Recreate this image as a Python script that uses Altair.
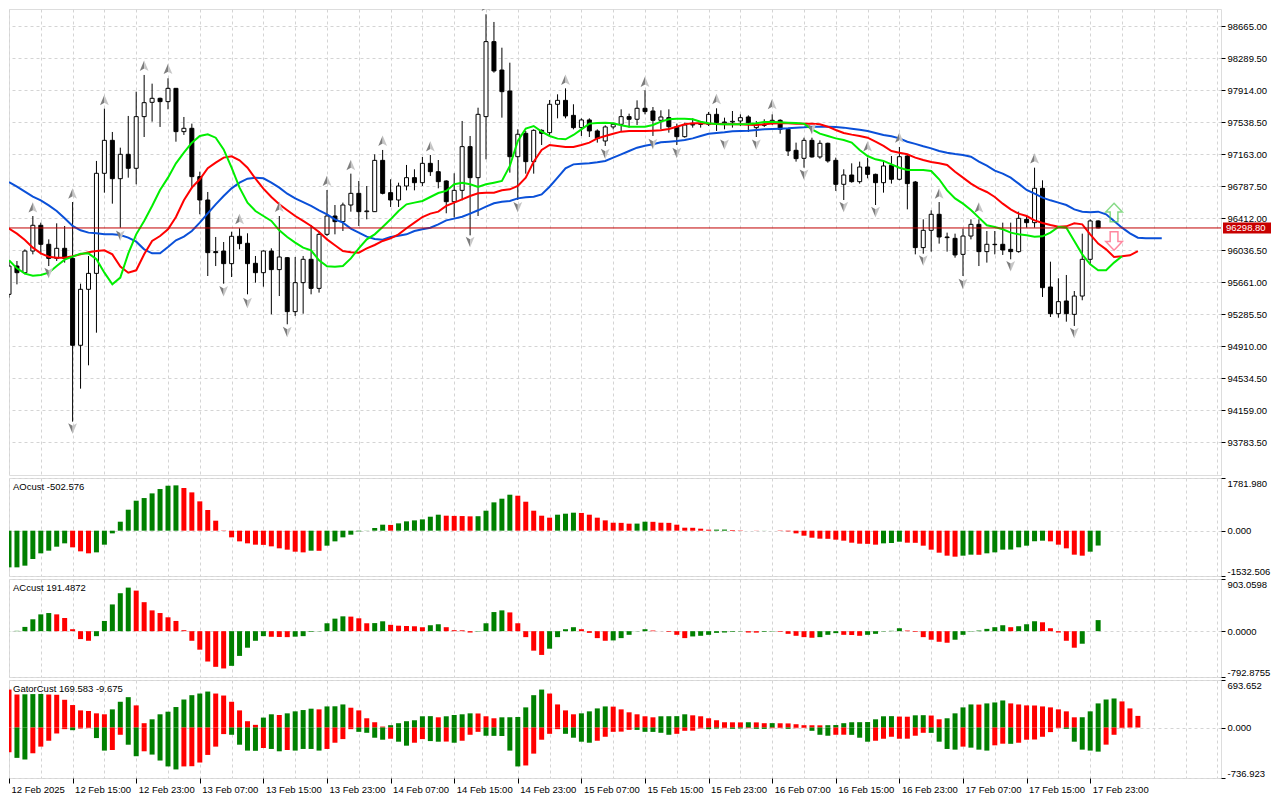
import json
import altair as alt
import pandas as pd

# ---------------- data ----------------
OPEN = [95520,95852,95774,96028,96330,96107,95942,96060,95942,94922,
        95579,95766,96940,97327,96877,97163,96999,97605,97773,97820,
        97781,97937,97429,97468,96901,96627,96021,96028,95880,96201,
        96119,95884,95774,96028,95810,95950,95317,95657,95931,95590,
        96224,96439,96373,96568,96705,96490,96490,97092,96713,96627,
        96791,96889,96830,97057,96959,96850,96607,96740,97253,96889,
        97605,98485,98152,97906,97135,97409,97077,97444,97417,97750,
        97796,97620,97476,97566,97437,97319,97484,97515,97605,97574,
        97703,97671,97562,97593,97487,97370,97507,97515,97515,97632,
        97534,97542,97554,97601,97476,97515,97534,97562,97456,97210,
        97116,97327,97132,97292,97092,96811,96920,96842,97014,96928,
        96830,97034,96870,97143,96838,96068,96271,96459,96193,96177,
        95989,96204,96341,96021,96107,96107,96048,96021,96400,96361,
        96764,95606,95293,95442,95285,95500,95931,96381]
HIGH = [95911,95911,96048,96439,96361,96165,96353,96322,96603,95645,
        95970,97085,97699,97425,97241,97613,97898,98094,97992,97828,
        98055,97937,97601,97523,96959,96721,96193,96134,96255,96295,
        96236,95970,96036,96060,96439,95958,95958,95970,96334,96263,
        96744,96568,96596,96936,96850,96791,97163,97214,96870,96830,
        97038,96987,97132,97155,97096,96858,96940,97554,97378,97710,
        98806,98716,98414,98238,97456,97437,97456,97456,97800,97867,
        97937,97750,97585,97585,97456,97503,97534,97691,97640,97796,
        97914,97718,97679,97691,97523,97534,97585,97554,97660,97703,
        97593,97671,97632,97620,97554,97574,97632,97574,97464,97300,
        97358,97358,97327,97300,97124,96987,97057,97077,97124,96936,
        97077,97143,97249,97155,96850,96400,96506,96603,96244,96232,
        96291,96400,96400,96263,96263,96361,96361,96490,96451,97006,
        96858,95903,95708,95747,95559,96232,96400,96388]
LOW = [95481,95637,95755,95989,95989,95852,95911,95892,94026,94413,
       94687,95070,96713,96584,96302,96889,96811,97366,97546,97484,
       97691,97311,97390,96764,96459,95735,95852,95645,95723,96048,
       95520,95657,95610,95285,95500,95168,95266,95293,95520,95540,
       96204,96224,96263,96490,96322,96400,96490,96693,96545,96545,
       96740,96740,96791,96909,96764,96471,96420,96623,96212,96439,
       97104,98121,97593,96948,96627,96936,96936,97272,97366,97585,
       97585,97456,97378,97366,97300,97261,97456,97429,97476,97507,
       97632,97378,97456,97417,97272,97358,97476,97476,97495,97437,
       97456,97476,97495,97425,97366,97484,97507,97405,97143,97077,
       97006,97124,97112,97065,96733,96627,96830,96819,96881,96568,
       96713,96819,96858,96517,95989,95997,96021,96115,96021,95950,
       95735,96165,95852,95892,95989,95982,95931,96009,96302,96302,
       95489,95254,95246,95199,95149,95450,95872,96295]
CLOSE = [95852,95774,96028,96330,96107,95942,96060,95942,94922,95579,
         95766,96940,97327,96877,97163,96999,97605,97769,97820,97781,
         97937,97429,97468,96901,96627,96009,96009,95880,96201,96115,
         95880,95774,96028,95810,95958,95317,95657,95931,95590,96224,
         96439,96373,96568,96705,96490,96498,97092,96705,96627,96791,
         96889,96830,97057,96959,96842,96607,96740,97253,96889,97632,
         98485,98141,97898,97135,97398,97077,97444,97409,97750,97796,
         97613,97476,97566,97437,97347,97484,97515,97605,97574,97703,
         97664,97562,97601,97487,97370,97507,97515,97519,97632,97534,
         97542,97550,97593,97534,97515,97503,97562,97456,97202,97112,
         97327,97132,97292,97085,96811,96920,96842,97014,96928,96830,
         97026,96870,97135,96819,96068,96271,96459,96193,96185,95982,
         96204,96341,96021,96107,96103,96040,96021,96412,96361,96764,
         95598,95293,95434,95293,95500,95931,96381,96298.80]

JAW = [96838,96783,96725,96666,96623,96564,96498,96412,96322,96271,
       96244,96236,96224,96224,96216,96185,96138,96048,96001,96001,
       96075,96154,96197,96263,96361,96470,96576,96674,96764,96830,
       96877,96889,96881,96830,96772,96701,96646,96603,96557,96506,
       96459,96400,96361,96291,96244,96197,96169,96161,96193,96208,
       96224,96263,96283,96302,96341,96388,96408,96431,96467,96506,
       96549,96588,96607,96615,96646,96658,96666,96693,96783,96889,
       96999,97045,97053,97057,97069,97085,97124,97163,97202,97241,
       97264,97280,97304,97311,97319,97331,97350,97378,97405,97413,
       97421,97433,97437,97440,97448,97456,97460,97464,97468,97476,
       97480,97487,97487,97487,97484,97476,97464,97452,97437,97413,
       97390,97374,97350,97311,97285,97257,97233,97202,97182,97167,
       97155,97135,97077,97030,96971,96936,96889,96819,96744,96701,
       96654,96623,96596,96568,96517,96490,96482,96490,96459,96381,
       96302,96236,96185,96177,96177,96177]
TEETH = [96291,96232,96158,96068,96001,95962,95950,95950,95966,95989,
         96013,96028,96036,95989,95845,95774,95802,95990,96146,96204,
         96283,96427,96623,96772,96870,96999,97065,97124,97139,97092,
         97006,96877,96760,96662,96576,96506,96439,96381,96322,96251,
         96165,96095,96028,96013,96009,96060,96099,96146,96177,96224,
         96295,96361,96427,96467,96490,96557,96596,96635,96674,96705,
         96713,96713,96740,96752,96791,96889,97077,97214,97272,97261,
         97249,97249,97272,97300,97350,97378,97405,97429,97437,97437,
         97437,97440,97444,97460,97487,97515,97527,97527,97523,97519,
         97515,97515,97515,97511,97507,97515,97523,97527,97527,97523,
         97523,97523,97515,97487,97448,97413,97394,97378,97358,97311,
         97261,97202,97182,97163,97124,97096,97073,97057,97038,96959,
         96889,96819,96764,96721,96662,96584,96517,96467,96439,96388,
         96357,96334,96314,96318,96353,96341,96224,96115,96048,95958,
         95966,95978,96028]
LIPS = [95919,95825,95763,95739,95747,95774,95852,95927,95962,95997,
        96001,95931,95774,95637,95716,95997,96224,96381,96557,96744,
        96889,97057,97182,97300,97378,97398,97358,97221,97006,96772,
        96596,96498,96439,96381,96271,96193,96126,96068,96036,95919,
        95848,95845,95852,95942,96060,96165,96224,96310,96400,96498,
        96576,96596,96615,96662,96709,96733,96811,96830,96811,96779,
        96811,96830,96850,97026,97319,97464,97495,97429,97378,97347,
        97339,97390,97456,97523,97530,97534,97527,97503,97487,97487,
        97487,97507,97546,97574,97581,97581,97574,97546,97527,97519,
        97515,97515,97515,97519,97527,97542,97542,97538,97534,97530,
        97523,97456,97405,97378,97350,97331,97300,97214,97143,97104,
        97085,97045,97006,96979,96979,96979,96967,96870,96740,96646,
        96584,96510,96420,96330,96310,96283,96244,96224,96212,96197,
        96201,96244,96310,96302,96146,95989,95872,95802,95802,95892,
        95966]

AO = [-1240,-1240,-1183,-958,-766,-676,-541,-428,-563,-699,
      -766,-733,-473,-90,304,710,1014,1104,1262,1409,
      1521,1533,1443,1296,992,699,338,-11,-225,-361,
      -428,-473,-480,-530,-597,-642,-710,-733,-676,-680,
      -507,-361,-225,-135,-23,5,90,203,195,248,
      316,349,383,473,541,507,500,495,485,490,
      676,958,1082,1217,1183,980,676,507,440,541,
      575,609,600,541,440,349,270,265,237,240,
      304,300,270,265,203,101,98,68,34,36,
      38,22,11,0,-5,-3,-1,-11,-23,-90,
      -169,-237,-270,-275,-304,-338,-406,-440,-445,-473,
      -428,-417,-372,-406,-410,-507,-642,-744,-845,-879,
      -845,-811,-815,-766,-733,-642,-638,-563,-507,-361,
      -338,-361,-473,-597,-811,-845,-710,-502.576]
AO_COLOR_RUNS = [("g",8),("r",3),("g",11),("r",16),("g",1),("r",1),("g",8),("r",1),
                 ("g",6),("r",4),("g",5),("r",5),("g",3),("r",7),("g",2),("r",8),
                 ("g",2),("r",4),("g",2),("r",13),("g",3),("r",7),("g",2),("r",1),
                 ("g",8),("r",5),("g",2)]

AC = [2,6,74,206,291,314,291,228,34,-137,
      -166,-86,177,463,657,754,702,502,360,314,
      240,177,17,-166,-320,-525,-617,-645,-600,-428,
      -286,-166,-86,-97,-100,-103,-95,-86,-11,-4,
      137,217,257,252,223,137,140,171,110,95,
      90,85,68,103,120,69,17,15,-23,-6,
      137,331,360,325,137,-103,-337,-411,-303,-103,
      34,69,34,-29,-120,-166,-160,-120,-63,3,
      34,11,-1,-11,-63,-120,-91,-80,-63,-29,
      -23,-11,-6,-23,-25,-11,-6,-11,-46,-80,
      -103,-114,-103,-63,-34,-63,-66,-80,-63,-46,
      -6,6,51,11,-11,-103,-148,-183,-200,-148,
      -63,-6,11,40,69,103,69,86,120,171,
      154,51,-23,-166,-286,-217,2,191.4872]
AC_COLOR_RUNS = [("g",6),("r",5),("g",5),("r",12),("g",5),("r",3),("g",7),("r",3),
                 ("g",2),("r",5),("g",2),("r",4),("g",4),("r",5),("g",4),("r",4),
                 ("g",5),("r",5),("g",7),("r",2),("g",2),("r",5),("g",3),("r",3),
                 ("g",5),("r",6),("g",7),("r",1),("g",3),("r",5),("g",3)]

GATOR_UP = [554,482,485,488,490,482,478,405,328,250,
            241,207,193,265,376,443,323,63,120,193,
            231,299,409,472,496,525,496,467,376,250,
            92,39,145,193,183,207,236,255,275,265,
            308,310,337,289,250,135,77,14,34,63,
            92,106,164,166,149,164,183,193,207,205,
            164,135,149,150,154,294,472,554,496,337,
            250,193,207,236,279,308,305,265,222,193,
            164,149,164,165,166,193,178,164,135,106,
            77,76,75,77,75,63,64,62,60,48,
            34,33,32,34,36,63,77,78,80,120,
            164,166,160,158,178,180,175,120,135,207,
            294,337,335,352,366,395,352,337,323,320,
            308,294,265,236,149,150,236,352,409,424,
            381,279,169.583]
GATOR_UP_COLOR_RUNS = [("r",2),("g",3),("r",8),("g",3),("r",2),("g",8),("r",6),("g",2),
                       ("r",1),("g",4),("r",1),("g",3),("r",5),("g",6),("r",1),("g",4),
                       ("r",3),("g",6),("r",4),("g",4),("r",6),("g",4),("r",7),("g",1),
                       ("r",2),("g",1),("r",6),("g",9),("r",2),("g",2),("r",2),("g",4),
                       ("r",1),("g",3),("r",9),("g",5),("r",3)]
GATOR_DN = [-361,-443,-467,-376,-279,-193,-87,-24,-39,-14,
            -10,-154,-337,-328,-106,-251,-419,-347,-395,-482,
            -568,-612,-568,-565,-511,-400,-279,-96,-106,-251,
            -337,-340,-299,-313,-347,-328,-337,-313,-313,-337,
            -313,-222,-169,-24,-63,-77,-149,-178,-164,-207,
            -265,-222,-169,-198,-207,-205,-222,-193,-106,-63,
            -120,-122,-124,-337,-568,-554,-381,-178,-92,-24,
            -92,-149,-207,-222,-193,-135,-63,-60,-34,-35,
            -63,-64,-77,-106,-92,-48,-46,-14,-24,-15,
            -10,-19,-14,-10,-19,-20,-10,-9,-19,-10,
            -8,-48,-106,-120,-106,-105,-107,-149,-207,-193,
            -164,-135,-164,-163,-120,-77,-78,-207,-313,-323,
            -279,-294,-323,-337,-260,-236,-238,-222,-178,-176,
            -135,-67,-10,-19,-207,-323,-337,-352,-250,-106,
            -9.675]
GATOR_DN_COLOR_RUNS = [("r",1),("g",2),("r",5),("g",1),("r",2),("g",2),("r",2),("g",2),
                       ("r",1),("g",4),("r",6),("g",4),("r",1),("g",2),("r",1),("g",4),
                       ("r",4),("g",4),("r",1),("g",2),("r",2),("g",2),("r",1),("g",1),
                       ("r",3),("g",5),("r",5),("g",4),("r",5),("g",5),("r",4),("g",2),
                       ("r",1),("g",2),("r",1),("g",2),("r",2),("g",1),("r",2),("g",3),
                       ("r",2),("g",3),("r",7),("g",4),("r",1),("g",3),("r",2),("g",1),
                       ("r",6),("g",5),("r",3)]

UP_FRACTAL_IDX = [3,8,12,17,20,29,34,40,43,47,53,60,70,80,89,96,108,112,117,122,129]
UP_FRACTAL_PRICE = [96537,96701,97796,98199,98162,96400,96545,96850,97034,97319,97253,
                    98903,98035,98012,97808,97749,97253,97358,96701,96537,97112]
DN_FRACTAL_IDX = [5,8,14,27,30,35,58,64,75,81,84,90,94,100,101,105,109,115,120,126,134]
DN_FRACTAL_PRICE = [95774,93948,96212,95559,95422,95082,96138,96545,97171,97288,97182,
                    97280,97280,96928,97460,96549,96490,95919,95645,95852,95070]

SIGNAL_IDX = 139
SIGNAL_UP_PRICE = 96480
SIGNAL_DN_PRICE = 96146

LAST_PRICE = 96298.80
PRICE_TICKS = [98665.00, 98289.50, 97914.00, 97538.50, 97163.00, 96787.50, 96412.00,
               96036.50, 95661.00, 95285.50, 94910.00, 94534.50, 94159.00, 93783.50]
PRICE_DOMAIN = [93400, 98868]
AO_RANGE = [-1532.506, 1781.980]
AC_RANGE = [-792.8755, 903.0598]
GATOR_RANGE = [-736.923, 693.652]
AO_TITLE = "AOcust -502.576"
AC_TITLE = "ACcust 191.4872"
GATOR_TITLE = "GatorCust 169.583 -9.675"
TIME_LABELS = ["12 Feb 2025", "12 Feb 15:00", "12 Feb 23:00", "13 Feb 07:00",
               "13 Feb 15:00", "13 Feb 23:00", "14 Feb 07:00", "14 Feb 15:00",
               "14 Feb 23:00", "15 Feb 07:00", "15 Feb 15:00", "15 Feb 23:00",
               "16 Feb 07:00", "16 Feb 15:00", "16 Feb 23:00", "17 Feb 07:00",
               "17 Feb 15:00", "17 Feb 23:00"]
BARS_PER_LABEL = 8
BARS_PER_GRID = 4

# ---------------- styling ----------------
W = 1212
H_MAIN = 466
H_SUB = 98
FONT = "Liberation Sans"
FS = 9.5
GRID = "#d4d4d4"
DASH = [3, 3]
GREEN = "#008000"
RED = "#ff0000"


def expand(runs):
    return [c for c, n in runs for _ in range(n)]


candles = pd.DataFrame({"i": range(len(OPEN)), "open": OPEN, "high": HIGH,
                        "low": LOW, "close": CLOSE})
candles["kind"] = ["bull" if c >= o else "bear" for o, c in zip(OPEN, CLOSE)]

jaw_df = pd.DataFrame({"i": range(len(JAW)), "v": JAW})
teeth_df = pd.DataFrame({"i": range(len(TEETH)), "v": TEETH})
lips_df = pd.DataFrame({"i": range(len(LIPS)), "v": LIPS})
ao_df = pd.DataFrame({"i": range(len(AO)), "v": AO, "c": expand(AO_COLOR_RUNS)})
ac_df = pd.DataFrame({"i": range(len(AC)), "v": AC, "c": expand(AC_COLOR_RUNS)})
gu_df = pd.DataFrame({"i": range(len(GATOR_UP)), "v": GATOR_UP, "c": expand(GATOR_UP_COLOR_RUNS)})
gd_df = pd.DataFrame({"i": range(len(GATOR_DN)), "v": GATOR_DN, "c": expand(GATOR_DN_COLOR_RUNS)})
up_df = pd.DataFrame({"i": UP_FRACTAL_IDX, "p": UP_FRACTAL_PRICE})
dn_df = pd.DataFrame({"i": DN_FRACTAL_IDX, "p": DN_FRACTAL_PRICE})
sig_up_df = pd.DataFrame({"i": [SIGNAL_IDX], "p": [SIGNAL_UP_PRICE]})
sig_dn_df = pd.DataFrame({"i": [SIGNAL_IDX], "p": [SIGNAL_DN_PRICE]})
last_df = pd.DataFrame({"p": [LAST_PRICE]})

n_slots = W / 7.95
x_scale = alt.Scale(domain=[0, n_slots], nice=False, zero=False, padding=0)
grid_x_axis = alt.Axis(values=list(range(0, 153, BARS_PER_GRID)), labels=False, ticks=False,
                       domain=False, grid=True, gridColor=GRID, gridDash=DASH, title=None)


def X(axis=grid_x_axis):
    return alt.X("i:Q", scale=x_scale, axis=axis)


y_main = alt.Scale(domain=PRICE_DOMAIN, nice=False, zero=False)
price_axis = alt.Axis(orient="right", values=PRICE_TICKS, format=".2f", tickSize=4,
                      tickColor="black", labelPadding=2, labelFont=FONT, labelFontSize=FS,
                      labelColor="black", grid=True, gridColor=GRID, gridDash=DASH,
                      domain=False, title=None, labelOverlap=False)


def YP(field):
    return alt.Y(field, scale=y_main, axis=price_axis)


wick = alt.Chart(candles).mark_rule(color="black", strokeWidth=1, clip=True).encode(
    x=X(), y=YP("low:Q"), y2="high:Q")
body = alt.Chart(candles).mark_bar(size=4, stroke="black", strokeWidth=1, clip=True).encode(
    x=X(), y=YP("open:Q"), y2="close:Q",
    fill=alt.Fill("kind:N", scale=alt.Scale(domain=["bull", "bear"], range=["white", "black"]),
                  legend=None))


def line(df, color):
    return alt.Chart(df).mark_line(color=color, strokeWidth=2, clip=True).encode(
        x=X(), y=YP("v:Q"))


jaw = line(jaw_df, "#0a50d8")
teeth = line(teeth_df, "#ff0000")
lips = line(lips_df, "#00ee00")

price_rule = alt.Chart(last_df).mark_rule(color="#c00000", strokeWidth=1).encode(y=YP("p:Q"))


def arrowhead(df, path, color):
    return alt.Chart(df).mark_point(shape=path, filled=True, size=121, color=color,
                                    opacity=1, strokeWidth=0, clip=True).encode(
        x=X(), y=YP("p:Q"))


up_l = arrowhead(up_df, "M0,-1L0,0.45L-0.8,0.9Z", "#7d7d7d")
up_r = arrowhead(up_df, "M0,-1L0.8,0.9L0,0.45Z", "#c6c6c6")
dn_l = arrowhead(dn_df, "M0,1L0,-0.45L-0.8,-0.9Z", "#7d7d7d")
dn_r = arrowhead(dn_df, "M0,1L0.8,-0.9L0,-0.45Z", "#c6c6c6")

UP_ARROW = "M0,-1L0.9,-0.05L0.42,-0.05L0.42,1L-0.42,1L-0.42,-0.05L-0.9,-0.05Z"
DN_ARROW = "M0,1L0.9,0.05L0.42,0.05L0.42,-1L-0.42,-1L-0.42,0.05L-0.9,0.05Z"
sig_up = alt.Chart(sig_up_df).mark_point(shape=UP_ARROW, filled=False, size=340,
                                         color="#55cc55", strokeWidth=1.5).encode(
    x=X(), y=YP("p:Q"))
sig_dn = alt.Chart(sig_dn_df).mark_point(shape=DN_ARROW, filled=False, size=340,
                                         color="#ff5577", strokeWidth=1.5).encode(
    x=X(), y=YP("p:Q"))

tag_rect = alt.Chart(last_df).mark_rect(color="#c80000", yOffset=-5.5, y2Offset=5.5).encode(
    x=alt.value(W + 2), x2=alt.value(W + 50), y=YP("p:Q"), y2="p:Q")
tag_text = alt.Chart(last_df).mark_text(align="left", baseline="middle", color="white",
                                        font=FONT, fontSize=FS).encode(
    x=alt.value(W + 5), y=YP("p:Q"), text=alt.Text("p:Q", format=".2f"))

main = alt.layer(wick, body, jaw, teeth, lips, price_rule, up_l, up_r, dn_l, dn_r,
                 sig_up, sig_dn, tag_rect, tag_text).properties(width=W, height=H_MAIN)

COLOR = alt.Color("c:N", scale=alt.Scale(domain=["g", "r"], range=[GREEN, RED]), legend=None)


def sub_axis(rng, fmt):
    return alt.Axis(orient="right", values=[rng[0], 0, rng[1]],
                    labelExpr="replace(format(datum.value, '" + fmt + "'), '\u2212', '-')",
                    tickSize=4, tickColor="black", labelPadding=2, labelFont=FONT,
                    labelFontSize=FS, labelColor="black", labelFlush=True,
                    grid=True, gridColor=GRID, gridDash=DASH, domain=False, title=None,
                    labelOverlap=False)


def title_text(t):
    return alt.Chart(pd.DataFrame({"t": [t]})).mark_text(
        align="left", baseline="top", font=FONT, fontSize=FS, color="black").encode(
        x=alt.value(4), y=alt.value(4), text="t:N")


def hist(df, rng, fmt, xaxis=grid_x_axis):
    return alt.Chart(df).mark_bar(size=5, clip=True).encode(
        x=X(xaxis),
        y=alt.Y("v:Q", scale=alt.Scale(domain=rng, nice=False, zero=False),
                axis=sub_axis(rng, fmt)),
        y2=alt.datum(0), color=COLOR)


ao = alt.layer(hist(ao_df, AO_RANGE, ".3f"), title_text(AO_TITLE)).properties(width=W, height=H_SUB)
ac = alt.layer(hist(ac_df, AC_RANGE, ".4f"), title_text(AC_TITLE)).properties(width=W, height=H_SUB)

time_axis = alt.Axis(orient="bottom", values=list(range(0, 137, BARS_PER_LABEL)),
                     labelExpr=json.dumps(TIME_LABELS) + "[round(datum.value / " + str(BARS_PER_LABEL) + ")]",
                     labelAlign="left", labelBaseline="top", labelPadding=1, labelOffset=2,
                     tickSize=5, tickColor="black", labelFont=FONT, labelFontSize=FS,
                     labelColor="black", grid=False, domain=False, title=None,
                     labelFlush=False, labelOverlap=False, labelBound=False)

gator = alt.layer(
    hist(gu_df, GATOR_RANGE, ".3f"),
    hist(gd_df, GATOR_RANGE, ".3f", xaxis=time_axis),
    title_text(GATOR_TITLE),
).resolve_axis(x="independent").properties(width=W, height=H_SUB)

chart = alt.vconcat(main, ao, ac, gator, spacing=3, bounds="flush", padding=0).configure_view(
    stroke="black", strokeWidth=1
).configure(background="white")

chart.save("out.html", embed_options={"renderer": "svg", "actions": False})
